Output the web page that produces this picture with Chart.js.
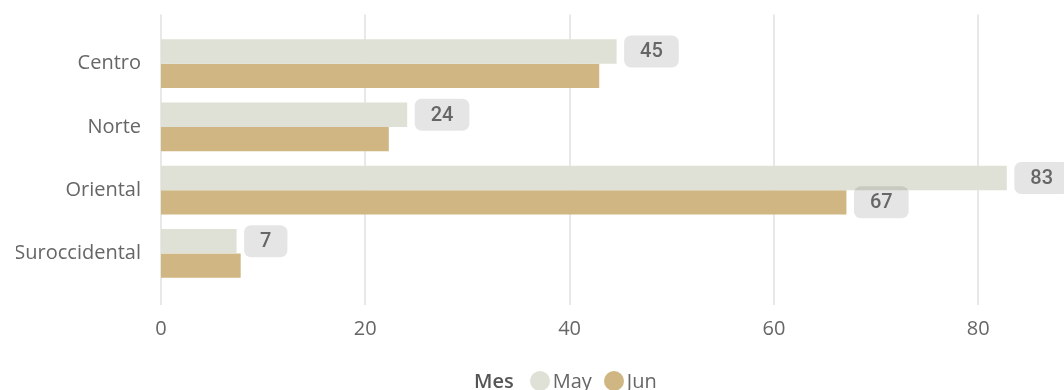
<!DOCTYPE html>
<html>
<head>
<meta charset="utf-8">
<script src="https://cdn.jsdelivr.net/npm/chart.js@4.4.0/dist/chart.umd.min.js"></script>
<style>
  html, body { margin: 0; padding: 0; background: #fff; }
  #wrap { position: relative; width: 1064px; height: 390px; }
  #legend {
    position: absolute; left: 474px; top: 367px;
    display: flex; align-items: center;
    font: 20px "Open Sans", "Noto Sans", sans-serif; color: #666; white-space: nowrap;
  }
  #legend .title { font-weight: 600; color: #555; margin-right: 16px; }
  #legend .dot { width: 20px; height: 20px; border-radius: 50%; margin-right: 3px; }
  #legend .item { display: flex; align-items: center; margin-right: 12px; }
</style>
</head>
<body>
<div id="wrap">
  <canvas id="chart"></canvas>
  <div id="legend"></div>
</div>
<script>
const regions = ["Centro", "Norte", "Oriental", "Suroccidental"];
const mayValues = [44.6, 24.1, 82.8, 7.4];
const junValues = [42.9, 22.3, 67.1, 7.8];
const mayShowLabel = [true, true, true, true];
const junShowLabel = [false, false, true, false];
const xTicks = [0, 20, 40, 60, 80];
const legendTitle = "Mes";

const FONT = '"Open Sans", "Noto Sans", sans-serif';

// vertical grid lines, a bit longer than the plot area
const gridLines = {
  id: "gridLines",
  beforeDatasetsDraw(chart) {
    const { ctx, chartArea, scales: { x } } = chart;
    ctx.save();
    ctx.strokeStyle = "#e8e8e8";
    ctx.lineWidth = 2;
    x.ticks.forEach(t => {
      const px = Math.round(x.getPixelForValue(t.value));
      ctx.beginPath();
      ctx.moveTo(px, chartArea.top - 17.5);
      ctx.lineTo(px, chartArea.bottom + 20);
      ctx.stroke();
    });
    ctx.restore();
  }
};

// grey rounded value boxes after the bar end
const valueBoxes = {
  id: "valueBoxes",
  afterDatasetsDraw(chart) {
    const ctx = chart.ctx;
    const flags = [mayShowLabel, junShowLabel];
    ctx.save();
    ctx.font = '500 20px Roboto, sans-serif';
    chart.data.datasets.forEach((ds, di) => {
      chart.getDatasetMeta(di).data.forEach((bar, i) => {
        if (!flags[di][i]) return;
        const txt = String(Math.round(ds.data[i]));
        const w = ctx.measureText(txt).width + 32, h = 32;
        const x = bar.x + 7.5, y = bar.y - h / 2;
        ctx.fillStyle = "rgba(0,0,0,0.1)";
        ctx.beginPath();
        ctx.roundRect(x, y, w, h, 7);
        ctx.fill();
        ctx.fillStyle = "#666";
        ctx.textAlign = "center";
        ctx.textBaseline = "middle";
        ctx.fillText(txt, x + w / 2, bar.y + 1);
      });
    });
    ctx.restore();
  }
};

const chart = new Chart(document.getElementById("chart"), {
  type: "bar",
  data: {
    labels: regions,
    datasets: [
      { label: "May", data: mayValues, backgroundColor: "#dfe1d6", borderWidth: 0 },
      { label: "Jun", data: junValues, backgroundColor: "#cfb682", borderWidth: 0 }
    ]
  },
  options: {
    indexAxis: "y",
    responsive: true,
    maintainAspectRatio: false,
    animation: false,
    layout: { padding: { left: 16, right: 0, top: 30.5, bottom: 36 } },
    datasets: { bar: { categoryPercentage: 0.77, barPercentage: 1 } },
    scales: {
      x: {
        min: 0,
        max: 88.4,
        grid: { display: false, drawTicks: false },
        border: { display: false },
        ticks: { color: "#666", font: { family: FONT, size: 20 }, padding: 32 },
        afterBuildTicks: s => { s.ticks = xTicks.map(v => ({ value: v })); },
        afterFit: s => { s.height = 69; }
      },
      y: {
        grid: { display: false, drawTicks: false },
        border: { display: false },
        ticks: { color: "#666", font: { family: FONT, size: 20 }, padding: 20 },
        afterFit: s => { s.width = 145; }
      }
    },
    plugins: {
      tooltip: { enabled: false },
      legend: { display: false }
    }
  },
  plugins: [gridLines, valueBoxes]
});

// html legend: title inline with the series keys
const legendEl = document.getElementById("legend");
const titleEl = document.createElement("span");
titleEl.className = "title";
titleEl.textContent = legendTitle;
legendEl.appendChild(titleEl);
chart.data.datasets.forEach(ds => {
  const item = document.createElement("span");
  item.className = "item";
  const dot = document.createElement("span");
  dot.className = "dot";
  dot.style.background = ds.backgroundColor;
  const txt = document.createElement("span");
  txt.textContent = ds.label;
  item.appendChild(dot);
  item.appendChild(txt);
  legendEl.appendChild(item);
});
</script>
</body>
</html>
